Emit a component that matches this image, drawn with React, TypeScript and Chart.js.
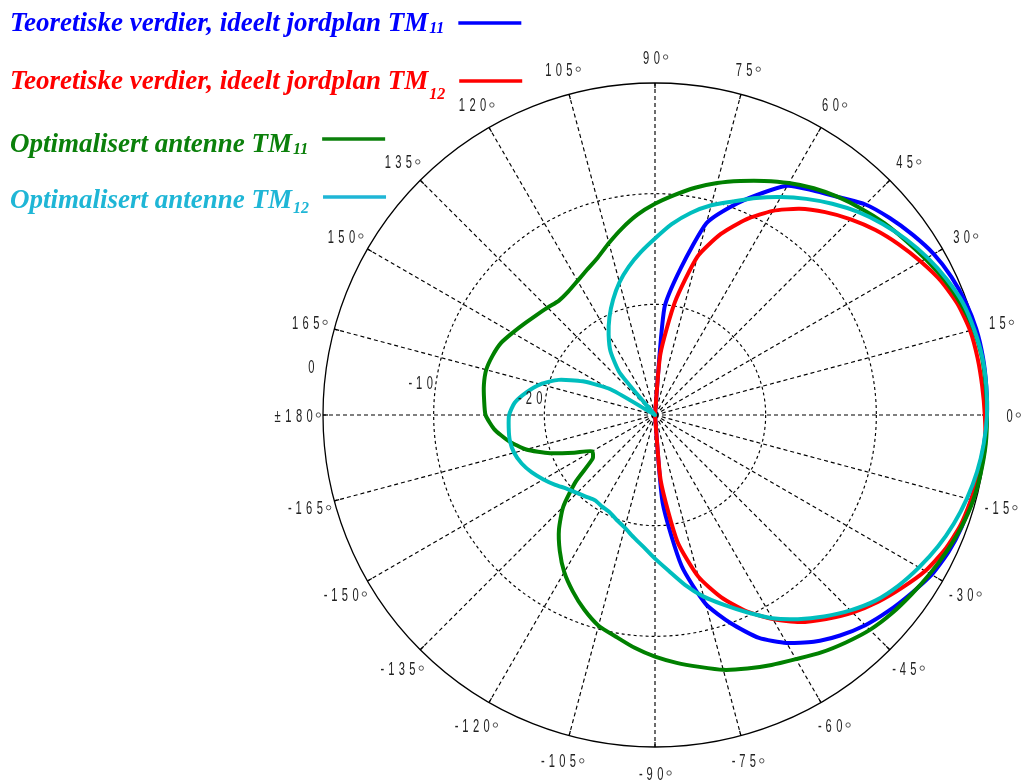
import React, { useEffect, useRef } from 'react';
import { Chart, registerables } from 'chart.js';

Chart.register(...registerables);

// Angles (degrees), counter-clockwise from 0 deg at the right
const ANGLES = [
  0, 5, 10, 15, 20, 25, 30, 35, 40, 45, 50, 55, 60, 65, 70, 75, 80, 85,
  90, 95, 100, 105, 110, 115, 120, 125, 130, 135, 140, 145, 150, 155, 160, 165, 170, 175, 180,
  -175, -170, -165, -160, -155, -150, -145, -140, -135, -130, -125, -120, -115, -110, -105, -100, -95,
  -90, -85, -80, -75, -70, -65, -60, -55, -50, -45, -40, -35, -30, -25, -20, -15, -10, -5,
];

// dB values, same order as ANGLES
const THEORY_TM11 = [
  0, 0.05, 0.09, 0.05, -0.14, -0.45, -0.91, -1.59, -2.31, -3.1, -4.28, -5.2, -6.07, -8.03, -9.97, -12.06, -16.5, -20.3,
  -30, -30, -30, -30, -30, -30, -30, -30, -30, -30, -30, -30, -30, -30, -30, -30, -30, -30, -30,
  -30, -30, -30, -30, -30, -30, -30, -30, -30, -30, -30, -30, -30, -30, -30, -30, -30,
  -30, -22.0, -16.14, -12.33, -9.97, -7.77, -6.21, -4.99, -3.99, -3.13, -2.45, -1.81, -1.13, -0.73, -0.49, -0.4, -0.33, -0.14,
];

const THEORY_TM12 = [
  -0.2, -0.32, -0.4, -0.52, -0.86, -1.45, -2.27, -3.11, -3.99, -4.99, -6.07, -7.25, -8.7, -10.49, -12.59, -15.18, -19.64, -24.5,
  -30, -30, -30, -30, -30, -30, -30, -30, -30, -30, -30, -30, -30, -30, -30, -30, -30, -30, -30,
  -30, -30, -30, -30, -30, -30, -30, -30, -30, -30, -30, -30, -30, -30, -30, -30, -30,
  -30, -24.0, -18.4, -14.88, -12.47, -10.43, -8.7, -7.16, -5.94, -4.76, -3.72, -2.77, -1.81, -1.13, -0.66, -0.43, -0.18, -0.05,
];

const OPT_TM11 = [
  0, 0, 0, -0.18, -0.59, -1.13, -1.79, -2.42, -2.99, -3.63, -4.28, -4.99, -5.8, -6.66, -7.5, -8.3, -9.15, -10.06,
  -10.92, -11.83, -12.87, -13.91, -14.87, -15.5, -16.0, -16.36, -16.5, -16.27, -15.98, -15.6, -15.14, -14.63, -14.37, -14.21, -14.3, -14.5, -14.69,
  -15.41, -16.55, -17.95, -19.9, -21.94, -23.44, -23.12, -20.67, -18.27, -16.5, -15.0, -13.6, -12.42, -11.29, -10.29, -9.66, -8.88,
  -8.16, -7.52, -6.89, -6.16, -5.62, -5.08, -4.53, -3.81, -3.17, -2.54, -2.09, -1.72, -1.31, -0.9, -0.52, -0.23, -0.1, 0,
];

const OPT_TM12 = [
  0, 0.05, 0.03, -0.14, -0.39, -0.93, -1.57, -2.31, -3.14, -4.05, -5.08, -6.16, -7.25, -8.36, -9.47, -10.38, -11.46, -12.69,
  -14.05, -15.23, -16.38, -17.59, -18.92, -20.26, -21.62, -23.0, -25.1, -30, -30, -30, -25.4, -22.8, -20.72, -19.27, -18.2, -17.27, -16.82,
  -16.73, -16.68, -16.82, -17.18, -17.72, -18.36, -19.0, -19.63, -20.04, -20.35, -20.58, -20.44, -20.3, -19.9, -19.46, -18.8, -18.04,
  -17.02, -15.87, -14.42, -13.01, -11.74, -10.33, -8.79, -7.48, -6.24, -5.03, -3.94, -3.13, -2.45, -1.81, -1.27, -0.82, -0.45, -0.18,
];

const ANGLE_TICKS = [0, 15, 30, 45, 60, 75, 90, 105, 120, 135, 150, 165, 180, -165, -150, -135, -120, -105, -90, -75, -60, -45, -30, -15];
const RADIAL_TICKS = [0, -10, -20];

const SERIES_LABELS = [
  'Teoretiske verdier, ideelt jordplan TM',
  'Teoretiske verdier, ideelt jordplan TM',
  'Optimalisert antenne TM',
  'Optimalisert antenne TM',
];
const SERIES_SUBS = ['11', '12', '11', '12'];
const LINE_COLORS = ['#0000ff', '#ff0000', '#008000', '#00bebe'];
const LEGEND_COLORS = ['#0000ff', '#ff0000', '#0b800b', '#1fb6d6'];

const W = 1021;
const H = 780;

// Radar goes clockwise from startAngle; index i corresponds to angle -5*i
const N = ANGLES.length;
const toRadar = (arr: number[]) => arr.map((_, i) => arr[(N - i) % N]);

function drawSpaced(ctx: CanvasRenderingContext2D, text: string, x: number, y: number) {
  const cells = Array.from(text).map((ch) => ({
    ch,
    w: ch === '-' ? 7 : ch === '°' ? 7 : ch === '±' ? 11 : 10.6,
  }));
  const total = cells.reduce((s, c) => s + c.w, 0);
  let px = x - total / 2;
  for (const c of cells) {
    const mx = px + c.w / 2;
    if (c.ch === '°') {
      ctx.beginPath();
      ctx.arc(mx, y, 2.2, 0, Math.PI * 2);
      ctx.stroke();
    } else {
      ctx.save();
      ctx.translate(mx, y + 6.5);
      ctx.scale(0.62, 1);
      ctx.fillText(c.ch, 0, 0);
      ctx.restore();
    }
    px += c.w;
  }
}

function setLabelStyle(ctx: CanvasRenderingContext2D) {
  ctx.fillStyle = '#222';
  ctx.strokeStyle = '#444';
  ctx.lineWidth = 0.9;
  ctx.setLineDash([]);
  ctx.font = '18px "Liberation Sans", Arial, sans-serif';
  ctx.textAlign = 'center';
  ctx.textBaseline = 'alphabetic';
}

const gridTextPlugin = {
  id: 'gridText',
  beforeDatasetsDraw(chart: any) {
    const s = chart.scales.r;
    const ctx: CanvasRenderingContext2D = chart.ctx;
    const cx = s.xCenter;
    const cy = s.yCenter;
    const R = s.drawingArea;
    ctx.save();
    ctx.setLineDash([]);
    ctx.strokeStyle = '#000';
    ctx.lineWidth = 1.2;
    for (const a of ANGLE_TICKS) {
      const t = (a * Math.PI) / 180;
      ctx.beginPath();
      ctx.moveTo(cx + (R - 5) * Math.cos(t), cy - (R - 5) * Math.sin(t));
      ctx.lineTo(cx + R * Math.cos(t), cy - R * Math.sin(t));
      ctx.stroke();
    }
    setLabelStyle(ctx);
    for (const a of ANGLE_TICKS) {
      const t = (a * Math.PI) / 180;
      const d = R + 26;
      const label = a === 180 ? '±180°' : `${a}°`;
      drawSpaced(ctx, label, cx + d * Math.cos(t), cy - d * Math.sin(t));
    }
    ctx.restore();
  },
  afterDatasetsDraw(chart: any) {
    const s = chart.scales.r;
    const ctx: CanvasRenderingContext2D = chart.ctx;
    const cx = s.xCenter;
    const cy = s.yCenter;
    ctx.save();
    setLabelStyle(ctx);
    const ta = (172 * Math.PI) / 180;
    for (const v of RADIAL_TICKS) {
      const d = s.getDistanceFromCenterForValue(v) + 15;
      drawSpaced(ctx, String(v), cx + d * Math.cos(ta), cy - d * Math.sin(ta));
    }
    ctx.restore();
  },
};

const legendPlugin = {
  id: 'customLegend',
  afterDraw(chart: any) {
    const ctx: CanvasRenderingContext2D = chart.ctx;
    const baselines = [31, 89, 152, 208];
    const subOffsets = [2, 10, 2, 5];
    const lineYs = [23, 81, 139, 197];
    ctx.save();
    ctx.textAlign = 'left';
    ctx.textBaseline = 'alphabetic';
    for (let i = 0; i < SERIES_LABELS.length; i++) {
      ctx.fillStyle = LEGEND_COLORS[i];
      ctx.font = 'italic bold 27px "Liberation Serif", "Times New Roman", serif';
      ctx.fillText(SERIES_LABELS[i], 10, baselines[i]);
      const w = ctx.measureText(SERIES_LABELS[i]).width;
      ctx.font = 'italic bold 16px "Liberation Serif", "Times New Roman", serif';
      ctx.fillText(SERIES_SUBS[i], 10 + w + 1, baselines[i] + subOffsets[i]);
      const sw = ctx.measureText(SERIES_SUBS[i]).width;
      const x0 = 10 + w + 1 + sw + 14;
      ctx.strokeStyle = LEGEND_COLORS[i];
      ctx.lineWidth = 3.5;
      ctx.beginPath();
      ctx.moveTo(x0, lineYs[i]);
      ctx.lineTo(x0 + 63, lineYs[i]);
      ctx.stroke();
    }
    ctx.restore();
  },
};

export default function App() {
  const canvasRef = useRef<HTMLCanvasElement | null>(null);

  useEffect(() => {
    const canvas = canvasRef.current;
    if (!canvas) return;
    const series = [THEORY_TM11, THEORY_TM12, OPT_TM11, OPT_TM12];
    const orders = [3, 2, 1, 0];
    const chart = new Chart(canvas, {
      type: 'radar',
      data: {
        labels: toRadar(ANGLES).map((a) => String(a)),
        datasets: series.map((arr, i) => ({
          label: SERIES_LABELS[i] + SERIES_SUBS[i],
          data: toRadar(arr),
          borderColor: LINE_COLORS[i],
          backgroundColor: LINE_COLORS[i],
          borderWidth: 4,
          pointRadius: 0,
          pointHoverRadius: 0,
          fill: false,
          tension: 0.2,
          borderJoinStyle: 'round',
          order: orders[i],
          clip: false as any,
        })),
      },
      options: {
        animation: false,
        responsive: false,
        devicePixelRatio: 1,
        events: [],
        layout: { padding: { left: 323, right: 34, top: 83, bottom: 33 } },
        plugins: { legend: { display: false }, tooltip: { enabled: false } },
        scales: {
          r: {
            min: -30,
            max: 0,
            startAngle: 90,
            ticks: { display: false, stepSize: 10 },
            pointLabels: { display: false },
            grid: {
              circular: true,
              color: '#000',
              lineWidth: (c: any) => (c.tick && c.tick.value === 0 ? 1.3 : 1.15),
            },
            border: {
              dash: (c: any) => (c.tick && c.tick.value === 0 ? [] : [3, 3]),
            } as any,
            angleLines: {
              color: '#000',
              lineWidth: (c: any) => (c.index % 3 === 0 ? 1.15 : 0),
              borderDash: [4, 3],
            },
          },
        },
      } as any,
      plugins: [gridTextPlugin, legendPlugin],
    });
    return () => chart.destroy();
  }, []);

  return (
    <div style={{ position: 'fixed', left: 0, top: 0, width: W, height: H, background: '#fff' }}>
      <canvas ref={canvasRef} width={W} height={H} style={{ width: W, height: H, display: 'block' }} />
    </div>
  );
}
